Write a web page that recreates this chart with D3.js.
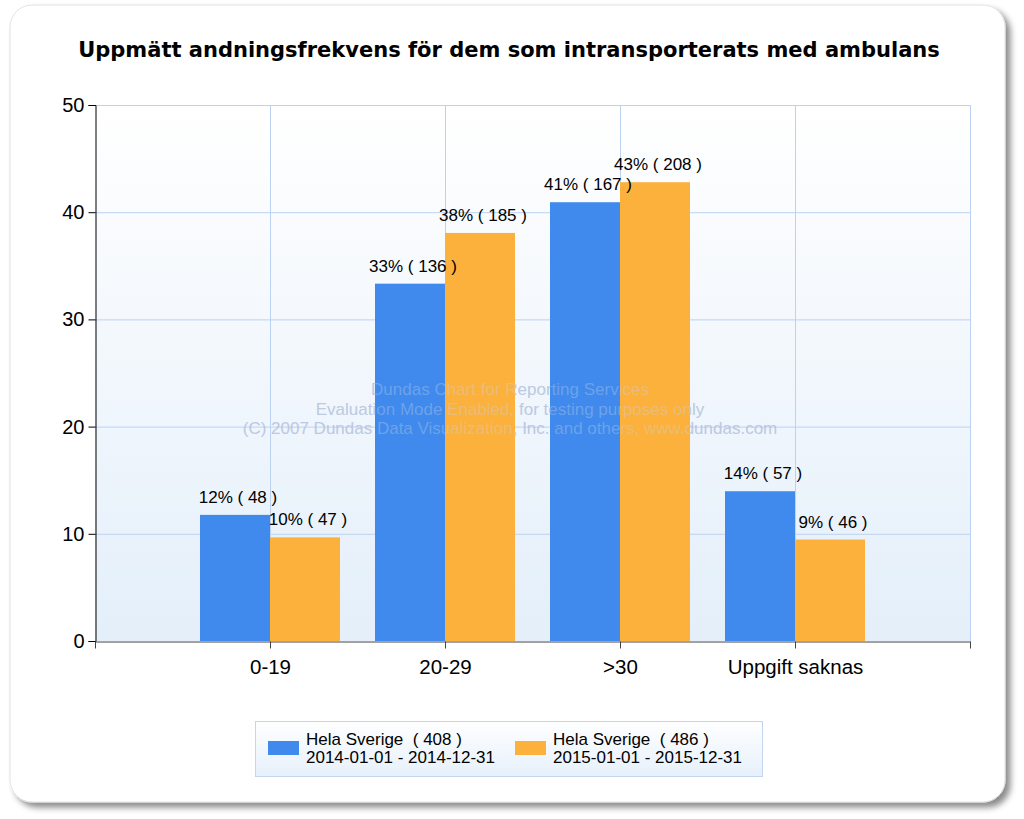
<!DOCTYPE html>
<html><head><meta charset="utf-8">
<script src="https://cdn.jsdelivr.net/npm/d3@7/dist/d3.min.js"></script>
<style>body{margin:0;background:#fff;}svg{display:block;} text{white-space:pre;}</style>
</head><body>
<svg id="c" width="1024" height="819"></svg>
<script>
const categories = ["0-19", "20-29", ">30", "Uppgift saknas"];
const series2014 = [48, 136, 167, 57];
const series2015 = [47, 185, 208, 46];
const totals = [408, 486];
const seriesNames = ["Hela Sverige  ( 408 )", "Hela Sverige  ( 486 )"];
const seriesPeriods = ["2014-01-01 - 2014-12-31", "2015-01-01 - 2015-12-31"];
const colors = ["#3f8aec", "#fbb13c"];
const yTicks = [0, 10, 20, 30, 40, 50];

const svg = d3.select("#c");
const defs = svg.append("defs");
const f = defs.append("filter").attr("id","sh").attr("x","-5%").attr("y","-5%").attr("width","115%").attr("height","115%");
f.append("feDropShadow").attr("dx",5).attr("dy",5).attr("stdDeviation",3).attr("flood-color","#000").attr("flood-opacity",0.45);
const g1 = defs.append("linearGradient").attr("id","pg").attr("x1",0).attr("y1",0).attr("x2",0).attr("y2",1);
g1.append("stop").attr("offset","0%").attr("stop-color","#ffffff");
g1.append("stop").attr("offset","100%").attr("stop-color","#e4effa");
const g2 = defs.append("linearGradient").attr("id","lg").attr("x1",0).attr("y1",0).attr("x2",0).attr("y2",1);
g2.append("stop").attr("offset","0%").attr("stop-color","#ffffff");
g2.append("stop").attr("offset","100%").attr("stop-color","#e6f0fb");

svg.append("rect").attr("x",10).attr("y",5).attr("width",995).attr("height",797).attr("rx",22)
  .attr("fill","#fff").attr("stroke","#e2e2e2").attr("filter","url(#sh)");

svg.append("text").attr("x",509).attr("y",57).attr("text-anchor","middle")
  .attr("font-family","DejaVu Sans, Verdana, sans-serif").attr("font-weight","bold").attr("font-size",21)
  .attr("fill","#000").text("Uppmätt andningsfrekvens för dem som intransporterats med ambulans");

const L = 95, R = 970, T = 105, B = 641;
const x = d3.scaleLinear().domain([0, categories.length + 1]).range([L, R]);
const y = d3.scaleLinear().domain([0, 50]).range([B, T]);

svg.append("rect").attr("x",L).attr("y",T).attr("width",R-L).attr("height",B-T).attr("fill","url(#pg)");

// gridlines
const grid = svg.append("g").attr("stroke","#bcd2f2").attr("stroke-width",1);
yTicks.forEach(t => { if (t>0) grid.append("line").attr("x1",L).attr("x2",R).attr("y1",y(t)+0.5).attr("y2",y(t)+0.5); });
d3.range(1, categories.length + 2).forEach(i => grid.append("line").attr("x1",Math.round(x(i))+0.5).attr("x2",Math.round(x(i))+0.5).attr("y1",T).attr("y2",B));

// watermark
const wm = ["Dundas Chart for Reporting Services","Evaluation Mode Enabled, for testing purposes only","(C) 2007 Dundas Data Visualization, Inc. and others, www.dundas.com"];
const wmg = svg.append("g").attr("font-family","Liberation Sans, Arial, sans-serif").attr("font-size",17).attr("fill","#a9b8d6").attr("fill-opacity",0.75).attr("text-anchor","middle");
wm.forEach((t,i)=>wmg.append("text").attr("x",510).attr("y",395+i*19.5).text(t));

// bars
const bw = x(1) - x(0);
const barW = bw * 0.4;
const allSeries = [series2014, series2015];
const bars = svg.append("g");
const labels = svg.append("g").attr("font-family","Liberation Sans, Arial, sans-serif").attr("font-size",17).attr("fill","#000").attr("text-anchor","middle");
allSeries.forEach((s, si) => {
  s.forEach((v, ci) => {
    const pct = v / totals[si] * 100;
    const x0 = x(ci + 1) + (si === 0 ? -barW : 0);
    bars.append("rect").attr("x",x0).attr("y",y(pct)).attr("width",barW).attr("height",B - y(pct)).attr("fill",colors[si]);
    labels.append("text").attr("x",x0 + barW/2 + 3).attr("y",y(pct) - 12)
      .text(Math.round(pct) + "% ( " + v + " )");
  });
});

// watermark over bars (slightly)
const wmg2 = svg.append("g").attr("font-family","Liberation Sans, Arial, sans-serif").attr("font-size",17).attr("fill","#c8d2e8").attr("fill-opacity",0.35).attr("text-anchor","middle");
wm.forEach((t,i)=>wmg2.append("text").attr("x",510).attr("y",395+i*19.5).text(t));

// y axis
const yAxis = svg.append("g").attr("transform",`translate(${L+0.5},0)`)
  .call(d3.axisLeft(y).tickValues(yTicks).tickSize(7).tickPadding(4));
yAxis.select(".domain").attr("stroke","#000");
yAxis.selectAll(".tick line").attr("stroke","#000");
yAxis.selectAll("text").attr("font-family","Liberation Sans, Arial, sans-serif").attr("font-size",20).attr("fill","#000");

// x axis
const xAxis = svg.append("g").attr("transform",`translate(0,${B+0.5})`)
  .call(d3.axisBottom(x).tickValues(d3.range(0, categories.length + 2)).tickSize(7).tickSizeOuter(0)
    .tickFormat(d => (d >= 1 && d <= categories.length) ? categories[d-1] : ""));
xAxis.select(".domain").attr("stroke","#444");
xAxis.selectAll(".tick line").attr("stroke","#444");
xAxis.selectAll("text").attr("font-family","Liberation Sans, Arial, sans-serif").attr("font-size",20.5).attr("fill","#000").attr("y",32).attr("dy",0);

// legend
const lg = svg.append("g");
lg.append("rect").attr("x",255.5).attr("y",721.5).attr("width",507).attr("height",55).attr("fill","url(#lg)").attr("stroke","#c3d5ef");
const lx = [268, 515];
seriesNames.forEach((n, i) => {
  lg.append("rect").attr("x",lx[i]).attr("y",741).attr("width",31).attr("height",14).attr("fill",colors[i]);
  const t = lg.append("text").attr("x",lx[i]+38).attr("font-family","Liberation Sans, Arial, sans-serif").attr("font-size",17).attr("fill","#000");
  t.append("tspan").attr("x",lx[i]+38).attr("y",745).text(n);
  t.append("tspan").attr("x",lx[i]+38).attr("y",763).text(seriesPeriods[i]);
});
</script>
</body></html>
